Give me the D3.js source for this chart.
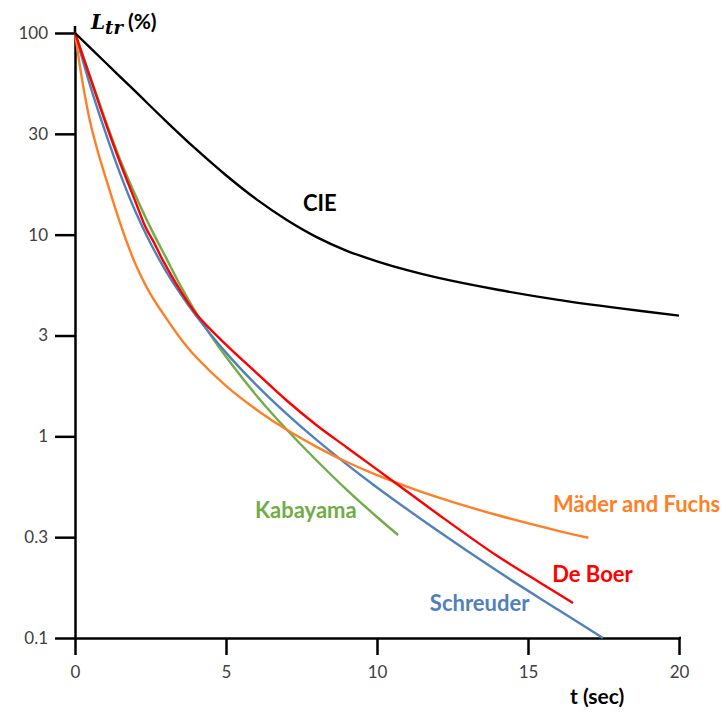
<!DOCTYPE html>
<html>
<head>
<meta charset="utf-8">
<script src="https://cdn.jsdelivr.net/npm/d3@7"></script>
<style>
  html, body { margin: 0; padding: 0; background: #fff; }
  svg { display: block; }
</style>
</head>
<body>
<svg id="chart" width="726" height="713"></svg>
<script>
// ---- data (t in seconds, L_tr in %) ----
const cieT      = [0, 1, 2, 3, 4, 5, 6, 7, 8, 9, 10, 11, 12, 14, 16, 18, 20];
const cieL      = [100, 71.6, 51.3, 36.7, 26.6, 19.7, 15.0, 11.86, 9.73, 8.32, 7.38, 6.67, 6.12, 5.33, 4.75, 4.32, 3.97];

const maderT    = [0, 0.25, 0.5, 0.75, 1, 1.25, 1.5, 1.75, 2, 2.5, 3, 3.5, 4, 5, 6, 7, 8, 9, 10, 12, 14, 16, 17];
const maderL    = [100, 56.9, 36.3, 26.0, 19.5, 14.8, 11.35, 8.9, 7.16, 5.07, 3.89, 3.05, 2.48, 1.78, 1.36, 1.08, 0.887, 0.746, 0.643, 0.499, 0.406, 0.340, 0.314];

const schreuderT = [0, 0.5, 1, 1.5, 2, 2.5, 3, 3.5, 4, 5, 6, 7, 8, 9, 10, 12, 14, 16, 17.48];
const schreuderL = [100, 55.0, 32.4, 19.95, 13.03, 9.07, 6.64, 5.07, 3.98, 2.60, 1.80, 1.296, 0.960, 0.726, 0.558, 0.341, 0.214, 0.138, 0.1];

const deBoerT   = [0, 0.5, 1, 1.5, 2, 2.3, 2.45, 2.6, 2.9, 3.5, 4, 5, 6, 7, 8, 9, 10.6, 12, 14, 15.4, 16.49];
const deBoerL   = [100, 60.3, 36.3, 22.6, 14.6, 11.2, 10.1, 9.23, 7.5, 5.25, 4.07, 2.85, 2.07, 1.51, 1.135, 0.881, 0.589, 0.413, 0.254, 0.188, 0.149];

const kabayamaT = [0, 0.5, 1, 1.5, 2, 2.5, 3, 3.5, 4, 4.5, 5, 6, 7, 8, 9, 10, 10.7];
const kabayamaL = [100, 61.0, 37.2, 23.4, 15.7, 10.84, 7.76, 5.56, 4.12, 3.16, 2.48, 1.60, 1.084, 0.759, 0.543, 0.398, 0.324];

const xTicks = [0, 5, 10, 15, 20];
const yTickValues = [100, 31.62, 10, 3.162, 1, 0.3162, 0.1];
const yTickLabels = ["100", "30", "10", "3", "1", "0.3", "0.1"];

const seriesNames  = ["Kabayama", "Schreuder", "Mäder and Fuchs", "De Boer", "CIE"];
const seriesColors = ["#70AD47", "#4F81BD", "#FF7F27", "#FF0000", "#000000"];
// label baseline anchor in data coords (t, L)
const labelT = [5.96, 11.75, 15.83, 15.8, 7.55];
const labelL = [0.393, 0.136, 0.422, 0.189, 13.1];

// ---- layout ----
const svg = d3.select("#chart");
const x = d3.scaleLinear().domain([0, 20]).range([75, 679]);
const y = d3.scaleLog().domain([0.1, 100]).range([638, 33]);

const series = [
  {name: seriesNames[0], color: seriesColors[0], t: kabayamaT, L: kabayamaL},
  {name: seriesNames[1], color: seriesColors[1], t: schreuderT, L: schreuderL},
  {name: seriesNames[2], color: seriesColors[2], t: maderT, L: maderL},
  {name: seriesNames[3], color: seriesColors[3], t: deBoerT, L: deBoerL},
  {name: seriesNames[4], color: seriesColors[4], t: cieT, L: cieL}
];

const line = d3.line()
  .x(d => x(d[0]))
  .y(d => y(d[1]))
  .curve(d3.curveCatmullRom.alpha(0.5));

// axes
const fontTick = "Lato, 'Open Sans', sans-serif";
const yAxis = d3.axisLeft(y)
  .tickValues(yTickValues)
  .tickFormat((d, i) => yTickLabels[i])
  .tickSizeInner(20).tickSizeOuter(0).tickPadding(7);
const xAxis = d3.axisBottom(x)
  .tickValues(xTicks)
  .tickFormat(d3.format("d"))
  .tickSizeInner(17).tickSizeOuter(0).tickPadding(11);

const gx = svg.append("g").attr("transform", `translate(0,${y(0.1)})`).call(xAxis);
const gy = svg.append("g").attr("transform", `translate(${x(0)},0)`).call(yAxis);
[gx, gy].forEach(g => {
  g.selectAll("path.domain").attr("stroke", "#000").attr("stroke-width", 2.5);
  g.selectAll(".tick line").attr("stroke", "#000").attr("stroke-width", 2.5);
  g.selectAll(".tick text").attr("fill", "#404040")
    .style("font-family", fontTick).style("font-size", "17px");
});
// small extension of the vertical axis above the top tick
svg.append("line")
  .attr("x1", x(0)).attr("x2", x(0))
  .attr("y1", y(100) - 7).attr("y2", y(100))
  .attr("stroke", "#000").attr("stroke-width", 2.5);
svg.append("line")
  .attr("x1", x(20)).attr("x2", x(20) + 2)
  .attr("y1", y(0.1)).attr("y2", y(0.1))
  .attr("stroke", "#000").attr("stroke-width", 2.5);

// curves
svg.append("g").selectAll("path.curve")
  .data(series)
  .join("path")
  .attr("class", "curve")
  .attr("fill", "none")
  .attr("stroke", d => d.color)
  .attr("stroke-width", 2.4)
  .attr("stroke-linejoin", "round")
  .attr("d", d => line(d.t.map((t, i) => [t, d.L[i]])));

// series labels
svg.append("g").selectAll("text.lbl")
  .data(series)
  .join("text")
  .attr("class", "lbl")
  .attr("x", (d, i) => x(labelT[i]))
  .attr("y", (d, i) => y(labelL[i]))
  .attr("fill", d => d.color)
  .style("font-family", fontTick)
  .style("font-weight", "bold")
  .style("font-size", "22px")
  .text(d => d.name);

// axis titles
const yt = svg.append("text")
  .attr("x", 91).attr("y", 29)
  .attr("fill", "#000");
yt.append("tspan")
  .style("font-family", "'DejaVu Serif', 'Liberation Serif', serif")
  .style("font-style", "italic").style("font-weight", "bold")
  .style("font-size", "20px").text("L");
yt.append("tspan")
  .attr("dy", 5)
  .style("font-family", "'DejaVu Serif', 'Liberation Serif', serif")
  .style("font-style", "italic").style("font-weight", "bold")
  .style("font-size", "18px").text("tr");
yt.append("tspan")
  .attr("dy", -5).attr("dx", 5)
  .style("font-family", fontTick).style("font-weight", "bold")
  .style("font-size", "21px").text("(%)");

svg.append("text")
  .attr("x", 570).attr("y", 704)
  .attr("fill", "#000")
  .style("font-family", fontTick).style("font-weight", "bold")
  .style("font-size", "21px")
  .text("t (sec)");
</script>
</body>
</html>
